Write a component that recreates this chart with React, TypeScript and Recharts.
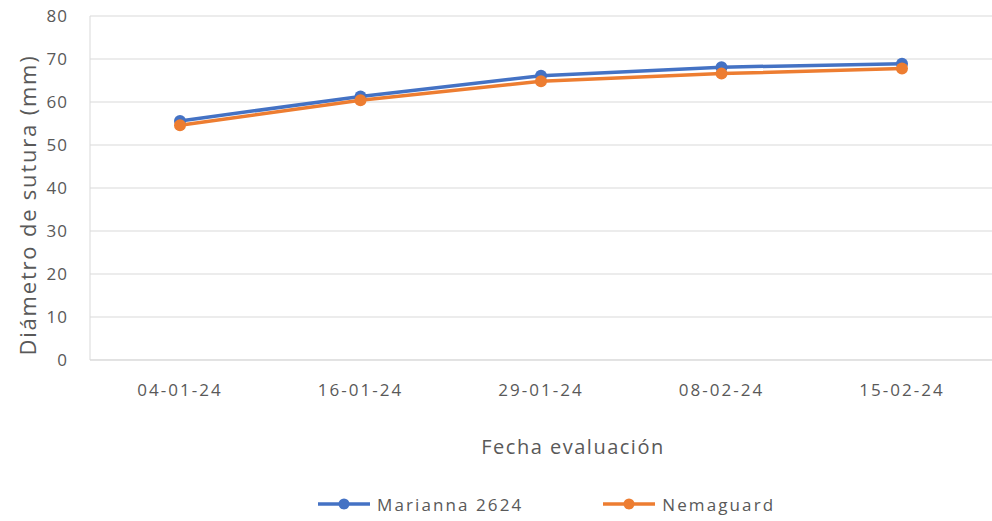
import { CartesianGrid, Label, Legend, Line, LineChart, XAxis, YAxis } from "recharts";

const fechas = ["04-01-24", "16-01-24", "29-01-24", "08-02-24", "15-02-24"];
const marianna = [55.6, 61.3, 66.1, 68.1, 68.9];
const nemaguard = [54.6, 60.4, 64.8, 66.6, 67.8];
const yTicks = [0, 10, 20, 30, 40, 50, 60, 70, 80];

const data = fechas.map((fecha, i) => ({
  fecha,
  marianna: marianna[i],
  nemaguard: nemaguard[i],
}));

const FONT = "'Open Sans', sans-serif";
const TEXT = "#595959";
const GRID = "#d9d9d9";

function ChartLegend({ payload }: { payload?: Array<{ value?: string; color?: string }> }) {
  return (
    <div style={{ height: 32, display: "flex", alignItems: "center", paddingLeft: 318, fontFamily: FONT }}>
      {(payload ?? []).map((entry) => (
        <div key={entry.value} style={{ display: "flex", alignItems: "center", marginRight: 80 }}>
          <svg width={52} height={14}>
            <line x1={0} y1={7} x2={52} y2={7} stroke={entry.color} strokeWidth={3.5} />
            <circle cx={26} cy={7} r={5.5} fill={entry.color} />
          </svg>
          <span style={{ marginLeft: 7, fontSize: 17, letterSpacing: 2.1, color: TEXT }}>{entry.value}</span>
        </div>
      ))}
    </div>
  );
}

function YTitle({ viewBox }: { viewBox?: { x: number; y: number; width: number; height: number } }) {
  if (!viewBox) return null;
  const cx = viewBox.x + 27;
  const cy = viewBox.y + viewBox.height / 2 + 17;
  return (
    <text
      x={cx}
      y={cy}
      transform={`rotate(-90, ${cx}, ${cy})`}
      textAnchor="middle"
      dominantBaseline="central"
      style={{ fill: TEXT, fontSize: 22, fontFamily: FONT, letterSpacing: 1.8 }}
    >
      Diámetro de sutura (mm)
    </text>
  );
}

export default function App() {
  return (
    <div style={{ position: "absolute", left: 0, top: 0, background: "#fff" }}>
      <LineChart width={992} height={521} data={data} margin={{ top: 16, right: 0, left: 0, bottom: 1 }}>
        <CartesianGrid stroke={GRID} vertical={false} />
        <XAxis
          dataKey="fecha"
          stroke={GRID}
          tickLine={false}
          tickSize={0}
          tickMargin={24}
          height={128}
          padding={{ left: 90, right: 90 }}
          tick={{ fill: TEXT, fontSize: 17, fontFamily: FONT, letterSpacing: 2 }}
        >
          <Label
            value="Fecha evaluación"
            position="insideTop"
            offset={80}
            dx={32}
            style={{ fill: TEXT, fontSize: 20, fontFamily: FONT, letterSpacing: 1.5 }}
          />
        </XAxis>
        <YAxis
          domain={[0, 80]}
          ticks={yTicks}
          width={90}
          stroke={GRID}
          tickLine={false}
          tickSize={0}
          tickMargin={22}
          tick={{ fill: TEXT, fontSize: 17, fontFamily: FONT, letterSpacing: 1 }}
        >
          <Label content={<YTitle />} />
        </YAxis>
        <Legend verticalAlign="bottom" content={<ChartLegend />} />
        <Line
          dataKey="marianna"
          name="Marianna 2624"
          stroke="#4472C4"
          strokeWidth={3.5}
          dot={{ r: 6, fill: "#4472C4", stroke: "#4472C4", strokeWidth: 0 }}
          isAnimationActive={false}
        />
        <Line
          dataKey="nemaguard"
          name="Nemaguard"
          stroke="#ED7D31"
          strokeWidth={3.5}
          dot={{ r: 6, fill: "#ED7D31", stroke: "#ED7D31", strokeWidth: 0 }}
          isAnimationActive={false}
        />
      </LineChart>
    </div>
  );
}
